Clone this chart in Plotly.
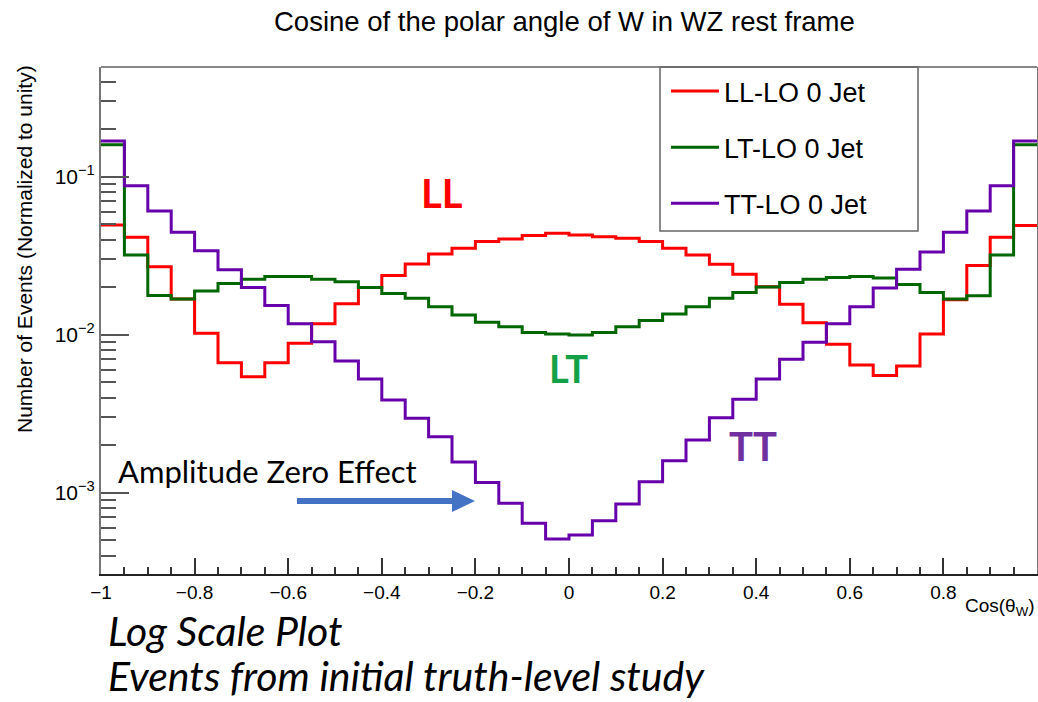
import numpy as np
import plotly.graph_objects as go

# ---------------- data ----------------
x_min, x_max, n_bins = -1.0, 1.0, 40

ll_values = [0.0494, 0.0413, 0.0269, 0.0168, 0.0102, 0.00665, 0.00542, 0.00665, 0.00883, 0.0117,
             0.0157, 0.0199, 0.0237, 0.0280, 0.0324, 0.0352, 0.0388, 0.0403, 0.0424, 0.0438,
             0.0428, 0.0417, 0.0407, 0.0388, 0.0352, 0.0319, 0.0279, 0.0241, 0.0201, 0.0156,
             0.0119, 0.00869, 0.00643, 0.00551, 0.00634, 0.0101, 0.0166, 0.0274, 0.0413, 0.0490]

lt_values = [0.159, 0.0319, 0.0177, 0.0168, 0.0189, 0.0211, 0.0224, 0.0233, 0.0233, 0.0224,
             0.0216, 0.0199, 0.0182, 0.0170, 0.0150, 0.0133, 0.0120, 0.0112, 0.0103, 0.0101,
             0.00995, 0.0103, 0.0112, 0.0123, 0.0135, 0.0150, 0.0170, 0.0185, 0.0200, 0.0214,
             0.0224, 0.0230, 0.0233, 0.0228, 0.0208, 0.0185, 0.0168, 0.0176, 0.0319, 0.159]

tt_values = [0.168, 0.0877, 0.0607, 0.0445, 0.0339, 0.0257, 0.0199, 0.0153, 0.0117, 0.0090,
             0.00682, 0.00523, 0.00386, 0.00296, 0.00226, 0.00156, 0.00116, 0.000857, 0.00064, 0.000509,
             0.00054, 0.000665, 0.000848, 0.00117, 0.00159, 0.00215, 0.00298, 0.0039, 0.00523, 0.00698,
             0.00896, 0.0117, 0.0150, 0.0197, 0.0259, 0.0333, 0.0445, 0.0607, 0.0877, 0.168]

series_names = ["LL-LO 0 Jet", "LT-LO 0 Jet", "TT-LO 0 Jet"]
series_colors = ["#FF0000", "#006600", "#6600AA"]

y_tick_vals = [1e-3, 1e-2, 1e-1]
y_tick_text = ["10<sup>\u22123</sup>", "10<sup>\u22122</sup>", "10<sup>\u22121</sup>"]
y_range_log = [-3.515, -0.306]

title_text = "Cosine of the polar angle of W in WZ rest frame"
y_title = "Number of Events (Normalized to unity)"
x_title = "Cos(\u03b8<sub>W</sub>)"

# ---------------- layout geometry ----------------
W, H = 1038, 702
L, R, T, B = 101, 1, 67, 128
PW, PH = W - L - R, H - T - B


def px(x):
    return (x - L) / PW


def py(y):
    return (H - B - y) / PH


ROOT_FONT = "Liberation Sans, Arial, sans-serif"
CAL_FONT = "Lato, Open Sans, sans-serif"

edges = np.linspace(x_min, x_max, n_bins + 1)

fig = go.Figure()
for name, vals, color in zip(series_names, [ll_values, lt_values, tt_values], series_colors):
    fig.add_trace(go.Scatter(
        x=edges, y=list(vals) + [vals[-1]],
        mode="lines", name=name, legendgroup=name,
        line=dict(color=color, width=3, shape="hv"),
        hoverinfo="skip",
    ))

# minor tick positions for the log axis (2..9 x decade)
minor_vals = [m * 10.0 ** e for e in range(-4, 0) for m in range(2, 10)]

fig.update_layout(
    width=W, height=H,
    margin=dict(l=L, r=R, t=T, b=B, autoexpand=False),
    paper_bgcolor="white", plot_bgcolor="white",
    font=dict(family=ROOT_FONT, color="black"),
    showlegend=True,
    legend=dict(
        x=px(666), y=py(67), xanchor="left", yanchor="top",
        bgcolor="rgba(0,0,0,0)", borderwidth=0,
        font=dict(family=ROOT_FONT, size=27, color="black"),
        traceorder="grouped", tracegroupgap=18, itemwidth=48,
    ),
    xaxis=dict(
        range=[x_min, x_max], showgrid=False, zeroline=False,
        showline=True, linecolor="#222", linewidth=2, mirror=False,
        tick0=0, dtick=0.2, ticks="inside", ticklen=16, tickwidth=1.5, tickcolor="#333",
        minor=dict(dtick=0.05, ticks="inside", ticklen=7, tickwidth=1.5, tickcolor="#333"),
        tickfont=dict(family=ROOT_FONT, size=19, color="black"),
    ),
    yaxis=dict(
        type="log", range=y_range_log, showgrid=False, zeroline=False,
        showline=True, linecolor="#777", linewidth=2, mirror=True,
        tickmode="array", tickvals=y_tick_vals, ticktext=y_tick_text,
        ticks="inside", ticklen=28, tickwidth=1.5, tickcolor="#555",
        minor=dict(tickmode="array", tickvals=minor_vals, ticks="inside", ticklen=15,
                   tickwidth=1.5, tickcolor="#555"),
        tickfont=dict(family=ROOT_FONT, size=21, color="black"),
    ),
)

shapes = [
    # top frame line
    dict(type="line", xref="paper", yref="paper", x0=0, x1=1, y0=1, y1=1,
         line=dict(color="#888", width=2)),
    # legend box
    dict(type="rect", xref="paper", yref="paper",
         x0=px(660), x1=px(918), y0=py(231), y1=py(67),
         line=dict(color="#666", width=1.5), fillcolor="rgba(0,0,0,0)"),
]

# blue arrow ("Amplitude Zero Effect")
arrow_pts = [(297, 498), (452, 498), (452, 490), (475, 501), (452, 512), (452, 504), (297, 504)]
path = "M " + " L ".join(f"{px(a):.5f},{py(b):.5f}" for a, b in arrow_pts) + " Z"
shapes.append(dict(type="path", xref="paper", yref="paper", path=path,
                   fillcolor="#4472C4", line=dict(width=0)))
fig.update_layout(shapes=shapes)

annotations = [
    dict(text=title_text, x=px(564), y=py(22), xanchor="center", yanchor="middle",
         font=dict(family=ROOT_FONT, size=27.5, color="black")),
    dict(text=y_title, x=px(25), y=py(249), xanchor="center", yanchor="middle",
         textangle=-90, font=dict(family=ROOT_FONT, size=21, color="black")),
    dict(text=x_title, x=px(1037), y=py(607), xanchor="right", yanchor="middle",
         font=dict(family=ROOT_FONT, size=19, color="black")),
    dict(text="<b>LL</b>", x=px(442), y=py(193), xanchor="center", yanchor="middle",
         font=dict(family=CAL_FONT, size=40, color="#FF0000")),
    dict(text="<b>LT</b>", x=px(568), y=py(368), xanchor="center", yanchor="middle",
         font=dict(family=CAL_FONT, size=38, color="#14A046")),
    dict(text="<b>TT</b>", x=px(753), y=py(446), xanchor="center", yanchor="middle",
         font=dict(family=CAL_FONT, size=40, color="#7030A0")),
    dict(text="Amplitude Zero Effect", x=px(116), y=py(471), xanchor="left", yanchor="middle",
         font=dict(family=CAL_FONT, size=31, color="black")),
    dict(text="<i>Log Scale Plot</i>", x=px(106), y=py(630), xanchor="left", yanchor="middle",
         font=dict(family=CAL_FONT, size=41, color="black")),
    dict(text="<i>Events from initial truth-level study</i>", x=px(106), y=py(675),
         xanchor="left", yanchor="middle",
         font=dict(family=CAL_FONT, size=41, color="black")),
]
for a in annotations:
    a.update(xref="paper", yref="paper", showarrow=False)
fig.update_layout(annotations=annotations)

fig.write_html("out.html", config={"displayModeBar": False},
               post_script="document.body.style.margin='0';document.body.style.padding='0';")
